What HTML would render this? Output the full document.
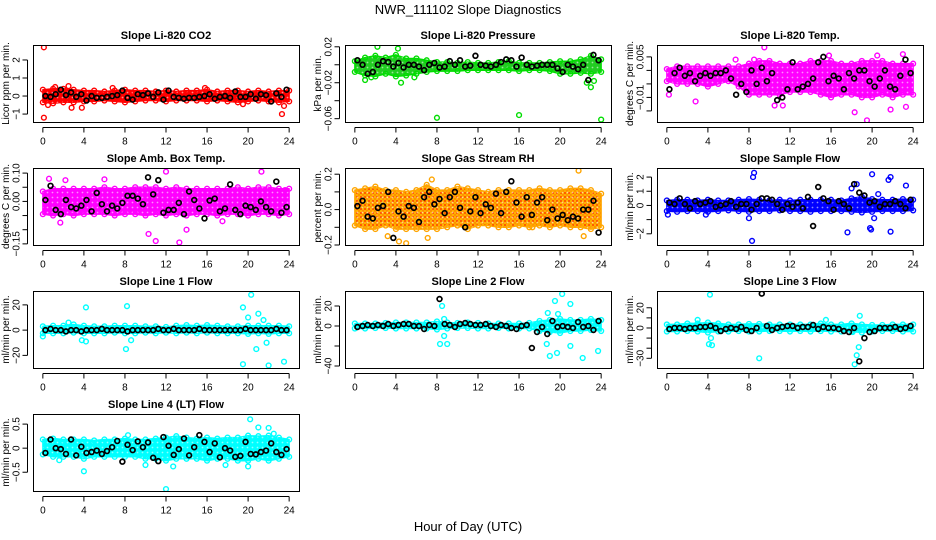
<!DOCTYPE html>
<html><head><meta charset="utf-8"><style>
html,body{margin:0;padding:0;background:#fff;}
svg{display:block;font-family:"Liberation Sans",Arial,sans-serif;}
</style></head><body>
<svg id="chart" width="936" height="540" viewBox="0 0 936 540" xmlns="http://www.w3.org/2000/svg">
<defs>
<pattern id="rhDots" width="4" height="4" patternUnits="userSpaceOnUse"><rect width="4" height="4" fill="#ffb000"/><circle cx="1" cy="1" r="0.9" fill="#ff2000"/><circle cx="3" cy="3" r="0.7" fill="#ff6000"/></pattern>
<pattern id="ringTex" width="5" height="5" patternUnits="userSpaceOnUse"><circle cx="2.5" cy="2.5" r="0.9" fill="#ffffff" fill-opacity="0.55"/></pattern>
</defs>
<text x="468" y="14" text-anchor="middle" font-size="13">NWR_111102  Slope Diagnostics</text>
<text x="468" y="531" text-anchor="middle" font-size="13">Hour of Day (UTC)</text>
</svg>
<script>
// ---- shared categories ----
const bandHours = [0,1,2,3,4,5,6,7,8,9,10,11,12,13,14,15,16,17,18,19,20,21,22,23,24];
const xTicks = [0,4,8,12,16,20,24];

// ---- CO2 ----
const co2Low  = [-0.35,-0.4,-0.35,-0.35,-0.3,-0.3,-0.25,-0.3,-0.35,-0.3,-0.25,-0.25,-0.3,-0.25,-0.25,-0.25,-0.3,-0.25,-0.3,-0.35,-0.3,-0.25,-0.3,-0.35,-0.3];
const co2High = [0.35,0.4,0.4,0.35,0.3,0.3,0.25,0.3,0.35,0.3,0.3,0.25,0.3,0.25,0.3,0.3,0.35,0.25,0.3,0.3,0.25,0.3,0.25,0.3,0.3];
const co2Out  = [[0.1,2.7],[0.1,-1.2],[3.8,-0.65],[23.3,-1.0],[23.5,-0.55],[2.5,0.55],[1.2,0.5],[2.8,-0.65],[0.5,-0.5],[19.5,-0.45],[6.8,0.45],[15.8,0.45]];
const co2Black = [0,-0.05,0.1,0.35,0.05,0.2,-0.05,0.1,-0.25,0,-0.1,-0.1,-0.05,0,0.05,0.3,-0.1,-0.2,0.1,0.05,0.15,-0.05,0.2,-0.2,0.3,-0.05,-0.1,-0.15,-0.1,-0.1,-0.05,0,0.1,-0.15,-0.05,0,-0.1,0.25,-0.05,-0.05,0.1,-0.15,0.1,0.05,-0.3,0.15,-0.05,0.35];
const co2Ticks = [-1,0,1,2];
// ---- Pressure ----
const presLow  = [-0.008,-0.012,-0.013,-0.01,-0.013,-0.012,-0.01,-0.008,-0.007,-0.007,-0.007,-0.006,-0.006,-0.006,-0.006,-0.006,-0.007,-0.006,-0.006,-0.007,-0.01,-0.01,-0.009,-0.01,-0.008];
const presHigh = [0.004,0.008,0.01,0.008,0.011,0.007,0.007,0.005,0.003,0.003,0.002,0.003,0.002,0.002,0.003,0.004,0.002,0.002,0.002,0.003,0.004,0.004,0.006,0.01,0.006];
const presOut  = [[8,-0.059],[16,-0.056],[24,-0.061],[2.2,0.02],[4.2,0.018],[23,-0.025],[1,-0.017],[4.5,-0.02],[1.6,-0.014],[5.8,-0.014],[22.6,-0.02],[23.3,-0.018]];
const presBlack = [0.005,0,-0.01,-0.008,0,0.004,0.003,-0.002,0.002,-0.003,0,0,-0.002,-0.006,0,0.002,-0.003,-0.002,0.004,0,0.005,-0.002,-0.001,0.01,0,-0.001,-0.002,0,0.003,0.006,0.005,-0.002,0.008,0,-0.002,-0.001,0,0,0,-0.004,-0.008,0,-0.002,-0.005,0,-0.017,0.011,0.005];
const presTicks = [-0.06,-0.04,-0.02,0,0.02];
const presLabels = [-0.06,null,-0.02,null,0.02];
// ---- Li-820 Temp ----
const tempLow  = [-0.004,-0.005,-0.005,-0.005,-0.006,-0.005,-0.004,-0.006,-0.009,-0.009,-0.009,-0.009,-0.008,-0.008,-0.008,-0.009,-0.01,-0.009,-0.009,-0.01,-0.01,-0.009,-0.01,-0.009,-0.009];
const tempHigh = [0.0005,0.0015,0.0015,0.0015,0.0015,0.0015,0.0015,0.0015,0.0025,0.0035,0.0035,0.0025,0.0025,0.0025,0.0035,0.0035,0.0035,0.0025,0.0025,0.0035,0.0035,0.0035,0.0025,0.0025,0.0025];
const tempOut  = [[9.5,0.0085],[19.5,-0.0185],[18.3,-0.0155],[21.8,-0.0145],[23,0.006],[20.5,0.0055],[0.2,-0.009],[2.8,-0.0115],[10.5,-0.013],[8.5,0.004],[15.8,0.0055],[23.3,-0.0135],[6.7,0.004],[11.3,-0.013]];
const tempBlack = [-0.007,-0.001,0.001,-0.002,-0.001,-0.004,-0.002,-0.001,-0.002,-0.001,-0.001,0,-0.003,-0.009,-0.005,-0.008,0,-0.005,0.001,-0.004,-0.001,-0.011,-0.01,-0.007,0.003,-0.007,-0.006,-0.005,-0.003,0.003,0.005,-0.004,-0.002,-0.003,-0.007,-0.001,-0.003,0,0,-0.004,-0.006,-0.003,0,-0.006,-0.007,-0.002,0.004,-0.001];
const tempTicks = [-0.015,-0.01,-0.005,0,0.005];
const tempLabels = [null,-0.01,null,null,0.005];
// ---- Amb Box Temp ----
const ambLow  = [-0.045,-0.05,-0.045,-0.05,-0.045,-0.045,-0.045,-0.05,-0.045,-0.045,-0.05,-0.045,-0.05,-0.045,-0.05,-0.045,-0.045,-0.05,-0.045,-0.045,-0.05,-0.045,-0.045,-0.05,-0.045];
const ambHigh = [0.035,0.045,0.045,0.045,0.045,0.045,0.05,0.045,0.045,0.05,0.05,0.05,0.045,0.05,0.045,0.045,0.045,0.045,0.045,0.05,0.045,0.05,0.05,0.045,0.045];
const ambOut  = [[12,0.105],[21.3,0.105],[11,-0.14],[13.3,-0.145],[10.3,-0.115],[0.6,0.08],[1.7,-0.075],[14,-0.1],[2.2,0.075],[6,0.078],[17.5,-0.07],[23.6,0.04]];
const ambBlack = [0.005,0.055,-0.03,-0.045,0.005,-0.02,-0.025,-0.015,0.005,-0.035,0.03,-0.01,-0.035,-0.015,-0.025,-0.005,0.02,0.02,0.01,-0.01,0.085,0.025,0.075,-0.04,-0.03,-0.03,-0.005,-0.045,0.035,0.005,-0.025,-0.06,0.003,0.01,-0.035,-0.025,0.06,-0.03,-0.045,-0.015,-0.02,-0.03,0,-0.02,-0.035,0.07,-0.04,-0.02];
const ambTicks = [-0.15,-0.1,-0.05,0,0.05,0.1];
const ambLabels = ["-0.15",null,null,"0.00",null,"0.10"];
// ---- Gas Stream RH ----
const rhLow  = [-0.09,-0.11,-0.11,-0.09,-0.11,-0.11,-0.11,-0.11,-0.11,-0.1,-0.09,-0.11,-0.09,-0.09,-0.1,-0.1,-0.09,-0.1,-0.09,-0.1,-0.09,-0.1,-0.1,-0.11,-0.1];
const rhHigh = [0.11,0.12,0.13,0.11,0.11,0.1,0.11,0.14,0.11,0.11,0.13,0.12,0.11,0.1,0.11,0.11,0.11,0.11,0.12,0.11,0.11,0.12,0.12,0.11,0.09];
const rhOut  = [[21.8,0.22],[4.3,-0.18],[5,-0.19],[3.2,-0.15],[7.1,-0.16],[7.5,0.17],[17.3,-0.1],[22.3,-0.15]];
const rhBlack = [0.02,0.05,-0.04,-0.05,0.01,0.02,0.1,-0.16,-0.01,-0.04,0.02,0.01,-0.07,0.07,0.1,0.03,0.06,-0.02,0.07,0.1,0.01,-0.1,-0.01,0.07,-0.02,0.03,0.01,0.09,-0.02,0.1,0.16,0.04,-0.04,0.07,-0.03,0.04,0.07,-0.06,0,-0.05,-0.03,-0.06,-0.04,-0.05,0,0,0.05,-0.13];
const rhTicks = [-0.2,-0.1,0,0.1,0.2];
const rhLabels = ["-0.2",null,"0.0",null,"0.2"];
// ---- Sample Flow ----
const sfLow  = [-0.4,-0.45,-0.4,-0.4,-0.45,-0.4,-0.35,-0.4,-0.45,-0.4,-0.4,-0.35,-0.4,-0.4,-0.45,-0.4,-0.4,-0.4,-0.45,-0.5,-0.45,-0.4,-0.4,-0.4,-0.35];
const sfHigh = [0.35,0.4,0.4,0.35,0.4,0.35,0.35,0.4,0.45,0.4,0.35,0.4,0.35,0.4,0.4,0.4,0.4,0.35,0.5,0.6,0.45,0.4,0.4,0.45,0.4];
const sfOut  = [[8.5,2.3],[8.4,2.0],[20,2.2],[21.6,1.8],[21.8,2.0],[23.3,1.4],[8.3,-2.5],[8.0,-0.9],[17.6,-1.9],[19.8,-1.6],[20.2,-0.9],[21.8,-1.85],[0.1,-0.65],[18,1.2],[18.5,1.5],[19.9,-1.7],[3.8,-0.65],[20.6,0.8]];
const sfBlack = [0.2,0.1,0.5,0.1,-0.2,0.3,0.1,0.2,0.3,-0.1,0,0.1,0.3,-0.1,0.1,0.1,-0.3,0.1,0.5,0.5,0.4,0.1,-0.3,0.1,-0.1,0.2,-0.2,0.6,-1.45,1.3,0.5,0.3,-0.3,0.3,0.1,-0.2,1.5,0.9,0.7,0.2,0.3,-0.1,0.1,0.1,0.3,0.1,-0.2,0.4];
const sfTicks = [-2,-1,0,1,2];
const sfLabels = ["-2",null,"0","1","2"];
// ---- Line 1 Flow ----
const l1Low  = [-2.5,-2.5,-2.5,-2,-2.5,-2.5,-2.5,-2,-2.5,-2.5,-2,-2.5,-2,-2.5,-2,-2.5,-2,-2.5,-2.5,-2.5,-3,-2.5,-3,-2.5,-2.5];
const l1High = [3,3.5,3.5,4.5,3.5,3,3,3.5,3.5,3.5,3,3,2.5,3.5,4,3.5,4,3.5,3,3,3.5,3.5,3.5,3.5,3];
const l1Out  = [[4.2,18],[8.2,19],[8.1,-15],[19.5,18],[20.3,28],[21,13],[20.8,-15],[19.5,-27],[22,-28],[23.5,-25],[21.8,-10],[3.8,-8],[4.2,-9],[8.6,-8],[20,10],[21.5,8],[0,-5],[2.5,6]];
const l1Black = [0,1,0,0,-1,0,0,-1,0,0,0,1,0,0,0,0,-1,0,0,0,0,0,1,0,0,1,0,0,0,0,1,0,0,0,0,0,0,0,0,1,0,0,0,0,0,1,0,0];
const l1Ticks = [-20,0,20];
// ---- Line 2 Flow ----
const l2Low  = [-2.5,-2.5,-2,-2,-2.5,-2.5,-2.5,-2.5,-3.5,-2.5,-2,-2,-2.5,-2.5,-2,-2.5,-2.5,-2.5,-5,-6,-7,-5,-5,-4,-5];
const l2High = [2.5,2.5,2.5,3,3.5,3.5,3.5,3.5,4.5,3.5,3,3.5,3,2.5,2.5,2.5,2.5,3,5,6,7,6,6,7,6];
const l2Out  = [[8.5,20],[8.3,-18],[9,-18],[8.7,-10],[19.5,25],[20.2,32],[21,22],[18.8,13],[18.7,-18],[19,-30],[19.7,-27],[21,-20],[22.2,-32],[23.7,-25],[8.7,7],[19.8,12]];
const l2Black = [-1,0,1,0,1,0,2,0,1,2,2,0,0,-3,1,0,27,2,1,-1,2,3,2,1,1,2,0,-1,1,0,-2,-3,0,1,-22,-6,-1,-8,5,-1,0,-1,-2,4,-1,0,-4,5];
const l2Ticks = [-40,-20,0,20];
const l2Labels = ["-40",null,"0","20"];
// ---- Line 3 Flow ----
const l3Low  = [-3.5,-3.5,-3,-3.5,-4.5,-3.5,-3.5,-3,-3.5,-3.5,-3,-3,-3.5,-3,-3.5,-3,-3.5,-3.5,-3.5,-4.5,-3.5,-3,-3,-3.5,-3.5];
const l3High = [3.5,3.5,4.5,4.5,5.5,4.5,3.5,3.5,4,4,3.5,3.5,3.5,3.5,3.5,4.5,3.5,3.5,4.5,3.5,3,3,3.5,3.5,3.5];
const l3Out  = [[4.2,33],[4.1,-16],[4.4,-17],[4.3,-10],[9,-30],[18.8,12],[18.7,-19],[18.5,-27],[18.3,-36],[3,8],[15.5,8],[18.1,-4]];
const l3Black = [-1,0,0,-1,0,0,1,1,2,0,-3,-1,0,-1,1,-2,-3,0,34,2,-2,0,1,2,2,0,1,1,3,-1,1,0,0,-1,-3,-4,0,-33,-10,-4,-3,0,0,0,1,-1,0,2];
const l3Ticks = [-30,-20,-10,0,10,20];
const l3Labels = ["-30",null,null,"0",null,"20"];
// ---- Line 4 (LT) Flow ----
const l4Low  = [-0.13,-0.18,-0.18,-0.18,-0.22,-0.18,-0.18,-0.18,-0.18,-0.18,-0.22,-0.22,-0.26,-0.22,-0.22,-0.22,-0.26,-0.22,-0.22,-0.26,-0.26,-0.22,-0.26,-0.22,-0.18];
const l4High = [0.18,0.2,0.18,0.18,0.18,0.16,0.18,0.18,0.2,0.18,0.18,0.2,0.22,0.25,0.22,0.2,0.22,0.2,0.22,0.22,0.26,0.25,0.26,0.22,0.18];
const l4Out  = [[20.2,0.6],[21,0.43],[22,0.42],[12,-0.85],[4,-0.48],[12.7,-0.38],[10,-0.35],[17.8,-0.35],[20,-0.38],[22.5,0.3],[1.6,-0.25],[8.3,0.27]];
const l4Black = [-0.1,0.18,0,-0.02,-0.12,0.18,-0.15,0.03,-0.1,-0.08,-0.05,-0.12,-0.06,0.02,0.15,-0.28,0.07,-0.04,0.14,0.02,0.12,-0.2,-0.27,0.23,0.05,-0.14,-0.02,0.2,-0.15,0.02,0.27,0.13,-0.08,0.1,-0.19,0.0,-0.05,-0.18,-0.16,0.13,-0.12,-0.13,-0.08,-0.05,0.1,-0.08,-0.14,-0.02];
const l4Ticks = [-0.5,0,0.5];

// ---- layout (not data) ----
const colLeft = [33,345,657], rowTop = [45,168,291,414], boxW = 266, boxH = 77;
const panels = [
 {name:'co2',title:'Slope Li-820 CO2',ylab:'Licor ppm per min.',c:0,r:0,y0:-1.44,y1:2.83,low:co2Low,high:co2High,out:co2Out,black:co2Black,ticks:co2Ticks,labels:null,fill:'#ff0000',stroke:'#ff0000'},
 {name:'pressure',title:'Slope Li-820 Pressure',ylab:'kPa per min.',c:1,r:0,y0:-0.0637,y1:0.022,low:presLow,high:presHigh,out:presOut,black:presBlack,ticks:presTicks,labels:presLabels,fill:'#22cc22',stroke:'#00dd00'},
 {name:'li820-temp',title:'Slope Li-820 Temp.',ylab:'degrees C per min.',c:2,r:0,y0:-0.0191,y1:0.0094,low:tempLow,high:tempHigh,out:tempOut,black:tempBlack,ticks:tempTicks,labels:tempLabels,fill:'#ff00ff',stroke:'#ff00ff'},
 {name:'amb-box-temp',title:'Slope Amb. Box Temp.',ylab:'degrees C per min.',c:0,r:1,y0:-0.154,y1:0.118,low:ambLow,high:ambHigh,out:ambOut,black:ambBlack,ticks:ambTicks,labels:ambLabels,fill:'#ff00ff',stroke:'#ff00ff'},
 {name:'gas-stream-rh',title:'Slope Gas Stream RH',ylab:'percent per min.',c:1,r:1,y0:-0.2,y1:0.235,low:rhLow,high:rhHigh,out:rhOut,black:rhBlack,ticks:rhTicks,labels:rhLabels,fill:'url(#rhDots)',stroke:'#ffa500'},
 {name:'sample-flow',title:'Slope Sample Flow',ylab:'ml/min per min.',c:2,r:1,y0:-2.79,y1:2.64,low:sfLow,high:sfHigh,out:sfOut,black:sfBlack,ticks:sfTicks,labels:sfLabels,fill:'#0000ff',stroke:'#0000ff'},
 {name:'line1-flow',title:'Slope Line 1 Flow',ylab:'ml/min per min.',c:0,r:2,y0:-30,y1:31,low:l1Low,high:l1High,out:l1Out,black:l1Black,ticks:l1Ticks,labels:null,fill:'#00ffff',stroke:'#00ffff'},
 {name:'line2-flow',title:'Slope Line 2 Flow',ylab:'ml/min per min.',c:1,r:2,y0:-42,y1:35,low:l2Low,high:l2High,out:l2Out,black:l2Black,ticks:l2Ticks,labels:l2Labels,fill:'#00ffff',stroke:'#00ffff'},
 {name:'line3-flow',title:'Slope Line 3 Flow',ylab:'ml/min per min.',c:2,r:2,y0:-39.6,y1:36.6,low:l3Low,high:l3High,out:l3Out,black:l3Black,ticks:l3Ticks,labels:l3Labels,fill:'#00ffff',stroke:'#00ffff'},
 {name:'line4-flow',title:'Slope Line 4 (LT) Flow',ylab:'ml/min per min.',c:0,r:3,y0:-0.89,y1:0.71,low:l4Low,high:l4High,out:l4Out,black:l4Black,ticks:l4Ticks,labels:null,fill:'#00ffff',stroke:'#00ffff'}
];

const svg = document.getElementById('chart');
const NS = 'http://www.w3.org/2000/svg';
function mk(tag, attrs, parent){
  const e = document.createElementNS(NS, tag);
  for (const k in attrs) e.setAttribute(k, attrs[k]);
  (parent||svg).appendChild(e);
  return e;
}
function fmt(v){ return String(v).replace('-', '\u2212'); }

panels.forEach(p => {
  const L = colLeft[p.c], T = rowTop[p.r];
  const xs = h => L + (h + 0.96) / 25.92 * boxW;
  const ys = v => T + (p.y1 - v) / (p.y1 - p.y0) * boxH;
  const g = mk('g', {});
  
  
  const clipId = 'clip-' + p.name;
  const cp = mk('clipPath', {id: clipId}, g);
  mk('rect', {x: L, y: T, width: boxW, height: boxH}, cp);
  const marks = mk('g', {'clip-path': 'url(#' + clipId + ')'}, g);
  
  
  // dense band
  let d = '';
  bandHours.forEach((h, i) => { d += (i ? 'L' : 'M') + xs(h).toFixed(1) + ',' + ys(p.high[i]).toFixed(1); });
  for (let i = bandHours.length - 1; i >= 0; i--) d += 'L' + xs(bandHours[i]).toFixed(1) + ',' + ys(p.low[i]).toFixed(1);
  const band = mk('path', {d: d + 'Z', fill: p.fill, stroke: p.stroke, 'stroke-width': 1.5, 'stroke-linejoin': 'round'}, marks);
  
  
  const tex = mk('path', {d: d + 'Z', fill: 'url(#ringTex)', stroke: 'none'}, marks);
  
  
  // edge circles
  bandHours.forEach((h, i) => {
    [p.high[i], p.low[i]].forEach(v => {
      const c = mk('circle', {cx: xs(h), cy: ys(v), r: 2.4, fill: 'none', stroke: p.stroke, 'stroke-width': 1.4}, marks);
      
      
    });
  });
  // outliers
  p.out.forEach(o => {
    const c = mk('circle', {cx: xs(o[0]), cy: ys(o[1]), r: 2.4, fill: 'none', stroke: p.stroke, 'stroke-width': 1.4}, marks);
    
    
  });
  // black points
  p.black.forEach((v, i) => {
    const c = mk('circle', {cx: xs(0.25 + i * 0.5), cy: ys(v), r: 2.4, fill: 'none', stroke: '#000', 'stroke-width': 1.7}, marks);
    
    
  });
  // box
  const box = mk('rect', {x: L + 0.5, y: T + 0.5, width: boxW, height: boxH, fill: 'none', stroke: '#000', 'stroke-width': 1}, g);
  
  
  // title
  const t = mk('text', {x: L + boxW / 2, y: T - 6, 'text-anchor': 'middle', 'font-size': 11, 'font-weight': 'bold'}, g);
  t.textContent = p.title;
  
  
  // x axis
  const by = T + boxH + 0.5;
  mk('line', {x1: xs(0), x2: xs(24), y1: by + 5, y2: by + 5, stroke: '#000'}, g);
  xTicks.forEach(h => {
    mk('line', {x1: xs(h), x2: xs(h), y1: by + 5, y2: by + 10, stroke: '#000'}, g);
    const tl = mk('text', {x: xs(h), y: by + 22, 'text-anchor': 'middle', 'font-size': 10}, g);
    tl.textContent = h;
    
    
  });
  // y axis
  const ax = L - 5.5;
  mk('line', {x1: ax, x2: ax, y1: ys(p.ticks[0]), y2: ys(p.ticks[p.ticks.length - 1]), stroke: '#000'}, g);
  p.ticks.forEach((v, i) => {
    mk('line', {x1: ax - 5, x2: ax, y1: ys(v), y2: ys(v), stroke: '#000'}, g);
    const lab = p.labels ? p.labels[i] : v;
    if (lab === null) return;
    const tx = ax - 8, ty = ys(v);
    const tl = mk('text', {x: tx, y: ty, 'text-anchor': 'middle', 'font-size': 10, transform: 'rotate(-90 ' + tx + ' ' + ty + ')'}, g);
    tl.textContent = fmt(lab);
    
    
  });
  const yx = L - 24, yy = T + boxH / 2;
  const yt = mk('text', {x: yx, y: yy, 'text-anchor': 'middle', 'font-size': 10, transform: 'rotate(-90 ' + yx + ' ' + yy + ')'}, g);
  yt.textContent = p.ylab;
  
  
});
</script>
</body></html>
